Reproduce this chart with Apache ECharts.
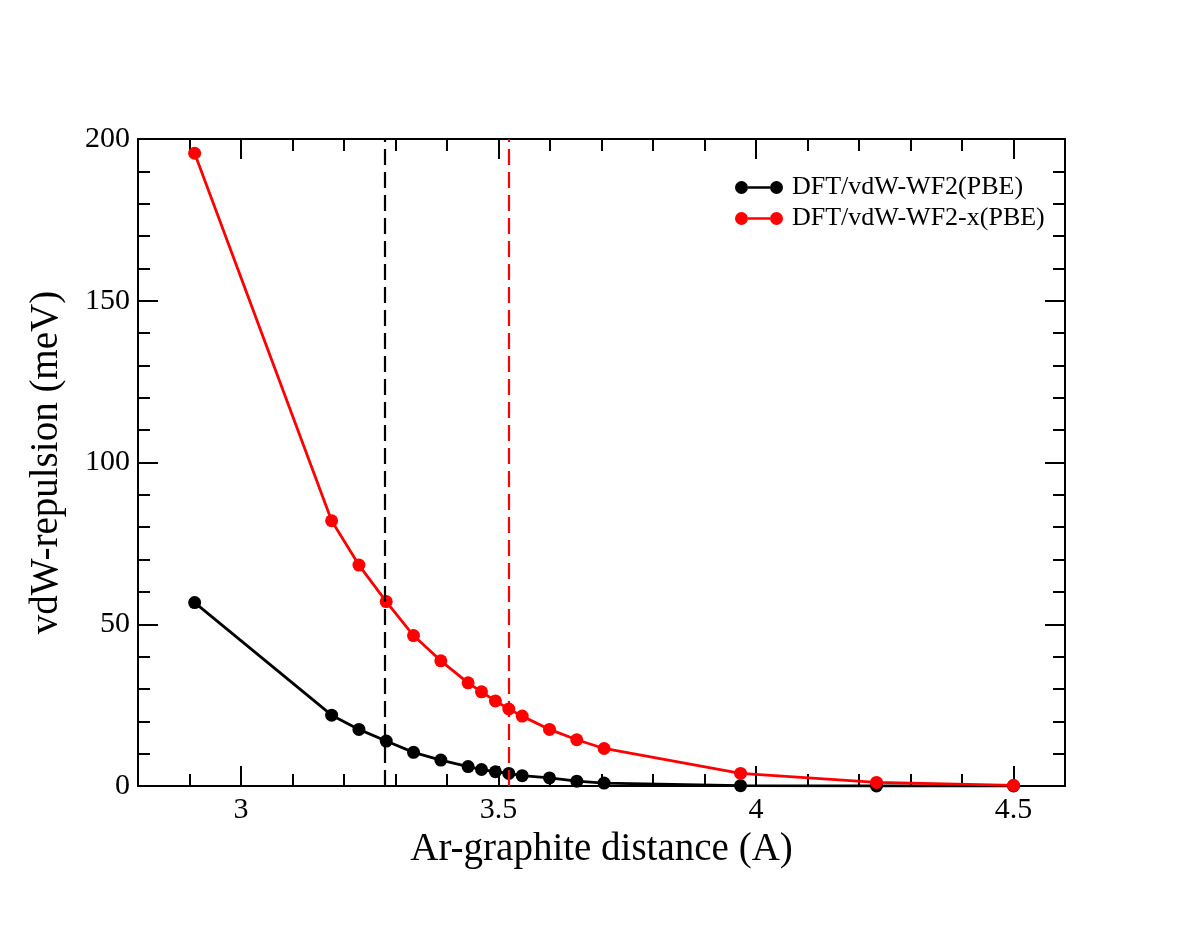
<!DOCTYPE html>
<html>
<head>
<meta charset="utf-8">
<script src="https://cdn.jsdelivr.net/npm/echarts@6/dist/echarts.min.js"></script>
<style>
  html, body { margin: 0; padding: 0; background: #fff; }
  #chart { width: 1199px; height: 926px; }
</style>
</head>
<body>
<div id="chart"></div>
<script>
// distances (A) and repulsion energies (meV)
const distance = [2.91, 3.176, 3.229, 3.282, 3.335, 3.388, 3.441, 3.467, 3.494, 3.52, 3.546, 3.599, 3.652, 3.705, 3.97, 4.234, 4.5];
const wf2 = [56.7, 21.9, 17.5, 13.9, 10.4, 8.0, 6.0, 5.1, 4.4, 3.9, 3.2, 2.5, 1.5, 0.9, 0.1, 0.0, 0.0];
const wf2x = [195.6, 82.0, 68.3, 57.0, 46.5, 38.7, 31.9, 29.1, 26.3, 23.8, 21.6, 17.5, 14.3, 11.6, 3.9, 1.1, 0.2];
const seriesNames = ['DFT/vdW-WF2(PBE)', 'DFT/vdW-WF2-x(PBE)'];
const eqDistance = [3.282, 3.52]; // dashed markers
const xMajor = [3, 3.5, 4, 4.5];
const xMinor = [2.9, 3.0, 3.1, 3.2, 3.3, 3.4, 3.5, 3.6, 3.7, 3.8, 3.9, 4.0, 4.1, 4.2, 4.3, 4.4, 4.5];

const FONT = 'Liberation Serif';
const chart = echarts.init(document.getElementById('chart'));

const pairs = ys => distance.map((x, i) => [x, ys[i]]);
const lineStyleAxis = { color: '#000', width: 2 };

// makes an x axis; major or minor tick set, bottom or top
function xAx(pos, ticks, len, withLabels) {
  return {
    type: 'value', position: pos, min: 2.8, max: 4.6,
    axisLine: { show: true, onZero: false, lineStyle: lineStyleAxis },
    axisTick: { show: true, inside: true, length: len, customValues: ticks, lineStyle: lineStyleAxis },
    axisLabel: withLabels ? {
      show: true, customValues: ticks, margin: 9, color: '#000',
      fontFamily: FONT, fontSize: 30,
      formatter: v => String(v)
    } : { show: false },
    splitLine: { show: false },
    name: withLabels ? 'Ar-graphite distance (A)' : '',
    nameLocation: 'middle', nameGap: 35,
    nameTextStyle: { fontFamily: FONT, fontSize: 39, color: '#000' }
  };
}

function yAx(pos, withLabels) {
  return {
    type: 'value', position: pos, min: 0, max: 200, interval: 50,
    axisLine: { show: true, onZero: false, lineStyle: lineStyleAxis },
    axisTick: { show: true, inside: true, length: 20, lineStyle: lineStyleAxis },
    minorTick: { show: true, splitNumber: 5, length: 12, lineStyle: lineStyleAxis },
    axisLabel: withLabels ? { show: true, margin: 8, color: '#000', fontFamily: FONT, fontSize: 30 } : { show: false },
    splitLine: { show: false },
    minorSplitLine: { show: false },
    name: withLabels ? 'vdW-repulsion (meV)' : '',
    nameLocation: 'middle', nameGap: 72,
    nameTextStyle: { fontFamily: FONT, fontSize: 39, color: '#000' }
  };
}

const legendIcon = 'path://M0,6.5 a6.5,6.5 0 1,0 13,0 a6.5,6.5 0 1,0 -13,0 Z M35,6.5 a6.5,6.5 0 1,0 13,0 a6.5,6.5 0 1,0 -13,0 Z M13,5.2 L35,5.2 L35,7.8 L13,7.8 Z';

function makeSeries(name, ys, color, xLine) {
  return {
    name: name, type: 'line', data: pairs(ys),
    xAxisIndex: 0, yAxisIndex: 0,
    symbol: 'circle', symbolSize: 13,
    itemStyle: { color: color },
    lineStyle: { color: color, width: 2.8 },
    markLine: {
      silent: true, symbol: ['none', 'none'], label: { show: false },
      lineStyle: { color: color, width: 2.2, type: [16, 7] },
      data: [{ xAxis: xLine }]
    },
    animation: false
  };
}

chart.setOption({
  backgroundColor: '#fff',
  animation: false,
  grid: { left: 138, top: 139, right: 134, bottom: 140 },
  legend: {
    orient: 'vertical', left: 730, top: 169, itemGap: 4,
    itemWidth: 48, itemHeight: 13, icon: legendIcon,
    textStyle: { fontFamily: FONT, fontSize: 26, lineHeight: 27, color: '#000', padding: [0, 0, 0, 4] },
    data: seriesNames
  },
  xAxis: [
    xAx('bottom', xMajor, 20, true),
    xAx('bottom', xMinor, 12, false),
    xAx('top', xMajor, 20, false),
    xAx('top', xMinor, 12, false)
  ],
  yAxis: [yAx('left', true), yAx('right', false)],
  series: [
    makeSeries(seriesNames[0], wf2, '#000', eqDistance[0]),
    makeSeries(seriesNames[1], wf2x, '#ff0000', eqDistance[1])
  ]
});
</script>
</body>
</html>
